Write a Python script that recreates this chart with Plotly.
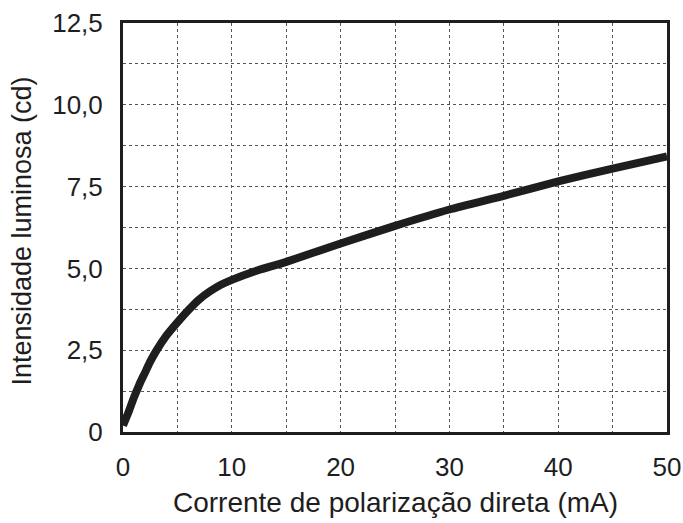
import plotly.graph_objects as go

# Data
current_ma = [0, 0.5, 1, 1.5, 2, 2.5, 3, 4, 5, 6, 7, 8, 9, 10, 12, 15, 20, 25, 30, 35, 40, 45, 50]
intensity_cd = [0.2, 0.6, 1.05, 1.45, 1.8, 2.15, 2.45, 2.95, 3.35, 3.72, 4.05, 4.3, 4.5, 4.65,
                4.9, 5.2, 5.76, 6.3, 6.8, 7.22, 7.66, 8.05, 8.42]

x_tickvals = [0, 10, 20, 30, 40, 50]
x_ticktext = ["0", "10", "20", "30", "40", "50"]
y_tickvals = [0, 2.5, 5.0, 7.5, 10.0, 12.5]
y_ticktext = ["0", "2,5", "5,0", "7,5", "10,0", "12,5"]
x_grid = [5, 10, 15, 20, 25, 30, 35, 40, 45]
y_grid = [1.25, 2.5, 3.75, 5, 6.25, 7.5, 8.75, 10, 11.25]

x_title = "Corrente de polarização direta (mA)"
y_title = "Intensidade luminosa (cd)"

FONT = "Liberation Sans, Arial, sans-serif"
INK = "#1e1e1e"

fig = go.Figure()
fig.add_trace(go.Scatter(
    x=current_ma, y=intensity_cd, mode="lines",
    line=dict(color=INK, width=8, shape="spline", smoothing=0.6),
    showlegend=False, hoverinfo="skip",
))

axis_common = dict(
    showline=True, mirror=True, linecolor=INK, linewidth=3,
    showgrid=False, zeroline=False, automargin=False,
    ticks="outside", tickcolor="rgba(0,0,0,0)",
    tickfont=dict(family=FONT, size=26, color=INK),
)

fig.update_xaxes(
    **axis_common,
    range=[0, 50], tickvals=x_tickvals, ticktext=x_ticktext, ticklen=10,
    minor=dict(tickvals=x_grid, showgrid=True,
               gridcolor="#555555", griddash="dot", gridwidth=1, ticks=""),
)
fig.update_yaxes(
    **axis_common,
    range=[0, 12.5], tickvals=y_tickvals, ticktext=y_ticktext, ticklen=12,
    minor=dict(tickvals=y_grid, showgrid=True,
               gridcolor="#555555", griddash="dot", gridwidth=1, ticks=""),
)

fig.add_annotation(text=x_title, xref="paper", yref="paper", x=0.5, y=0,
                   yshift=-70, showarrow=False, xanchor="center", yanchor="middle",
                   font=dict(family=FONT, size=28, color=INK))
fig.add_annotation(text=y_title, xref="paper", yref="paper", x=0, y=0.49,
                   xshift=-101, textangle=-90, showarrow=False,
                   xanchor="center", yanchor="middle",
                   font=dict(family=FONT, size=27, color=INK))

fig.update_layout(
    width=683, height=523,
    margin=dict(l=123, r=16, t=23, b=91),
    paper_bgcolor="white", plot_bgcolor="white",
)

# Remove the browser's default body margin so the figure sits at the page origin
fig.write_html("out.html",
               config={"displayModeBar": False, "staticPlot": True},
               post_script="document.body.style.margin='0';document.body.style.overflow='hidden';")
